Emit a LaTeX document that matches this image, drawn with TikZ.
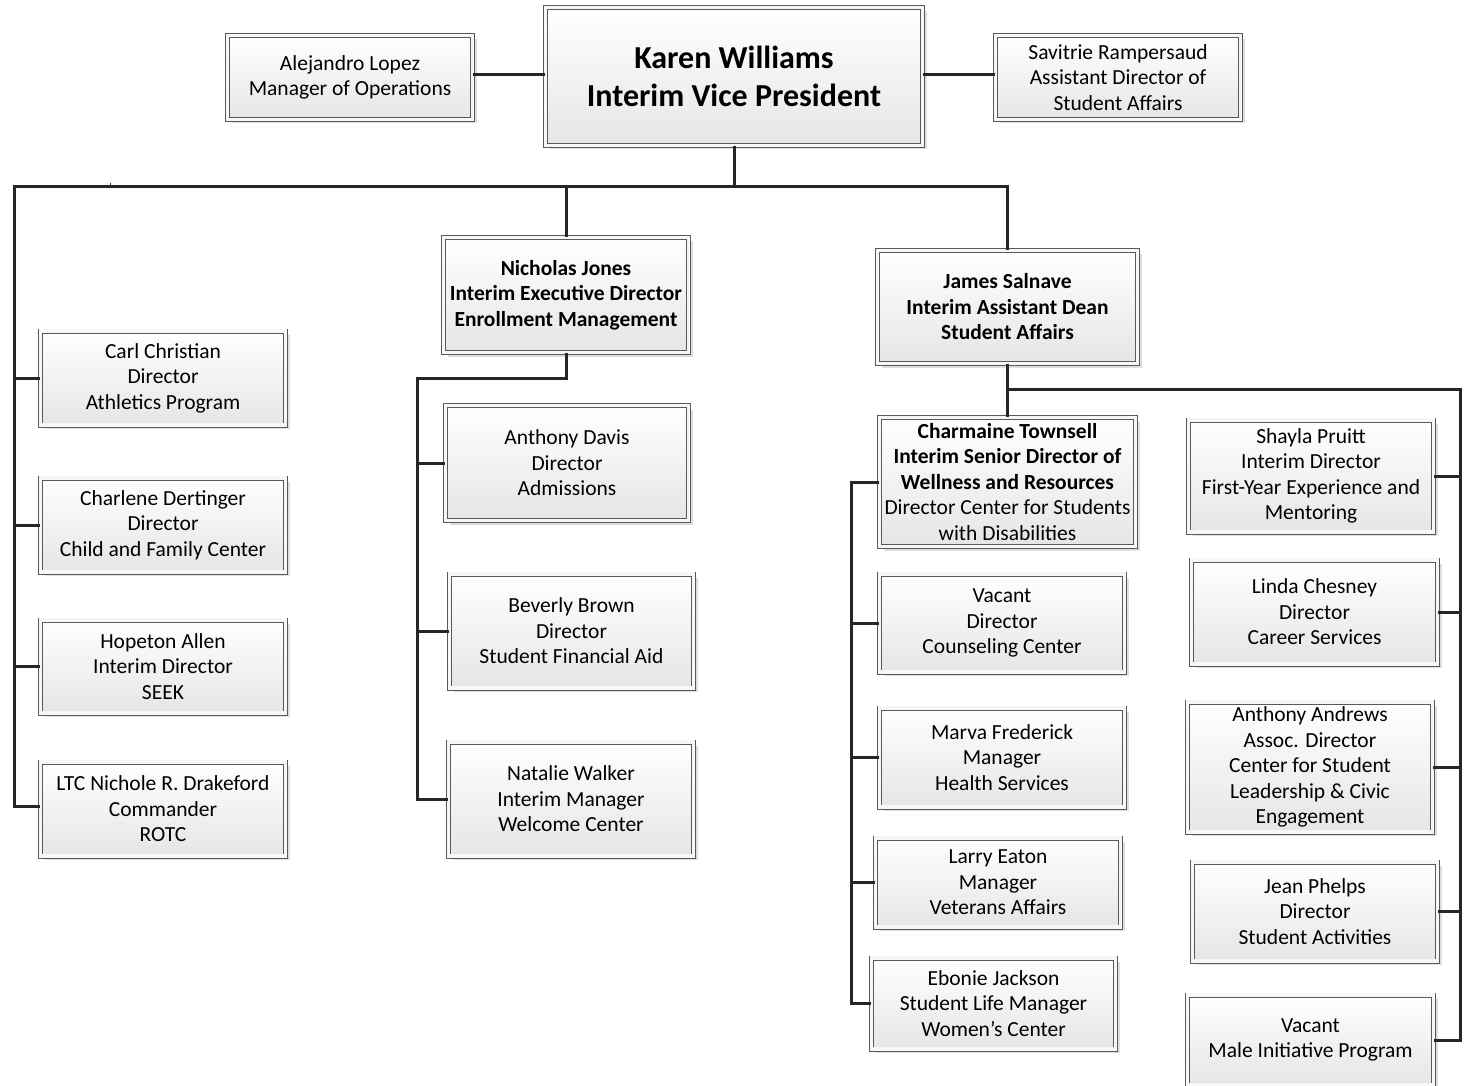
\documentclass[tikz,border=0pt]{standalone}
\usepackage{fontspec}
\setmainfont{Carlito}
\usetikzlibrary{shadows}

\tikzset{
  card/.style={draw=black!65, line width=0.8pt, double=black!3, double distance=3.4pt,
    top color=white, bottom color=black!10,
    drop shadow={shadow xshift=4pt, shadow yshift=-4pt, fill=black!13, opacity=1},
    align=center, inner sep=2pt, minimum width=245pt, minimum height=94pt,
    font=\fontsize{21.5}{25.5}\selectfont},
  link/.style={draw=black!85, line width=3pt},
}

\begin{document}
\begin{tikzpicture}[x=1pt,y=-1pt]
\useasboundingbox (0,0) rectangle (1465,1086);

% top row
\node[card, minimum width=377pt, minimum height=138pt, font=\fontsize{32}{38}\selectfont\bfseries]
  (vp) at (734,76.5) {Karen Williams\\Interim Vice President};
\node[card, minimum height=84pt] (ops) at (350,77.5) {Alejandro Lopez\\Manager of Operations};
\node[card, minimum height=84pt] (asst) at (1118,77.5) {Savitrie Rampersaud\\Assistant Director of\\Student Affairs};

% left column
\node[card] (athl) at (163,378) {Carl Christian\\Director\\Athletics Program};
\node[card] (child) at (163,525) {Charlene Dertinger\\Director\\Child and Family Center};
\node[card, minimum height=93pt] (seek) at (163,666.5) {Hopeton Allen\\Interim Director\\SEEK};
\node[card] (rotc) at (163,809) {LTC Nichole R. Drakeford\\Commander\\ROTC};

% enrollment management
\node[card, minimum height=115pt, font=\fontsize{21.5}{25.5}\selectfont\bfseries]
  (enroll) at (566,295) {Nicholas Jones\\Interim Executive Director\\Enrollment Management};
\node[card, minimum width=243pt, minimum height=115pt] (admit) at (567,463) {Anthony Davis\\Director\\Admissions};
\node[card, minimum width=244pt, minimum height=114pt] (aid) at (571.5,631) {Beverly Brown\\Director\\Student Financial Aid};
\node[card, minimum height=114pt] (welcome) at (571,799) {Natalie Walker\\Interim Manager\\Welcome Center};

% student affairs
\node[card, minimum width=260pt, minimum height=113pt, font=\fontsize{21.5}{25.5}\selectfont\bfseries]
  (dean) at (1007.5,307) {James Salnave\\Interim Assistant Dean\\Student Affairs};
\node[card, minimum width=256pt, minimum height=129pt] (well) at (1007.5,482)
  {\textbf{Charmaine Townsell}\\\textbf{Interim Senior Director of}\\\textbf{Wellness and Resources}\\Director Center for Students\\with Disabilities};
\node[card, minimum height=98pt] (counsel) at (1002,623) {Vacant\\Director\\Counseling Center};
\node[card, minimum height=99pt] (health) at (1002,757.5) {Marva Frederick\\Manager\\Health Services};
\node[card, minimum height=89pt] (vets) at (998,882.5) {Larry Eaton\\Manager\\Veterans Affairs};
\node[card, minimum width=244pt, minimum height=91pt] (women) at (993.5,1003.5) {Ebonie Jackson\\Student Life Manager\\Women’s Center};

\node[card, minimum height=112pt] (fye) at (1311,476) {Shayla Pruitt\\Interim Director\\First-Year Experience and\\Mentoring};
\node[card, minimum width=246pt, minimum height=104pt] (career) at (1314.5,612) {Linda Chesney\\Director\\Career Services};
\node[card, minimum height=130pt] (lead) at (1310,767) {Anthony Andrews\\Assoc. Director\\Center for Student\\Leadership \& Civic\\Engagement};
\node[card, minimum height=99pt] (act) at (1315,911.5) {Jean Phelps\\Director\\Student Activities};
\node[card, minimum width=246pt, minimum height=90pt] (male) at (1310.5,1040) {Vacant\\Male Initiative Program};

% bus lines
\coordinate (topbus) at (734,187);
\coordinate (leftrail) at (14,187);
\coordinate (emrail) at (417,378);
\coordinate (sabus) at (1007.5,389);
\coordinate (sarail) at (1460,389);
\coordinate (wrrail) at (851,482);

\draw[link] (ops.east |- 0,75) -- (vp.west |- 0,75);
\draw[link] (asst.west |- 0,75) -- (vp.east |- 0,75);
\draw[link] (vp.south) -- (topbus);
\draw[link] (rotc.west |- 0,806) -| (leftrail) -- (topbus -| dean) -- (dean.north);
\draw[link] (topbus -| enroll) -- (enroll.north);
\draw[draw=black!80, line width=0.8pt] (topbus -| 110,0) -- ++(0,-4);
\foreach \n in {athl, child, seek}
  \draw[link] (\n.west) -- (\n.west -| leftrail);

\draw[link] (enroll.south) |- (emrail) |- (welcome.west);
\foreach \n in {admit, aid}
  \draw[link] (\n.west) -- (\n.west -| emrail);

\draw[link] (dean.south) -- (well.north);
\draw[link] (sabus) -- (sarail) |- (male.east);
\foreach \n in {fye, career, lead, act}
  \draw[link] (\n.east) -- (\n.east -| sarail);

\draw[link] (well.west) -- (wrrail) |- (women.west);
\foreach \n in {counsel, health, vets}
  \draw[link] (\n.west) -- (\n.west -| wrrail);
\end{tikzpicture}
\end{document}
